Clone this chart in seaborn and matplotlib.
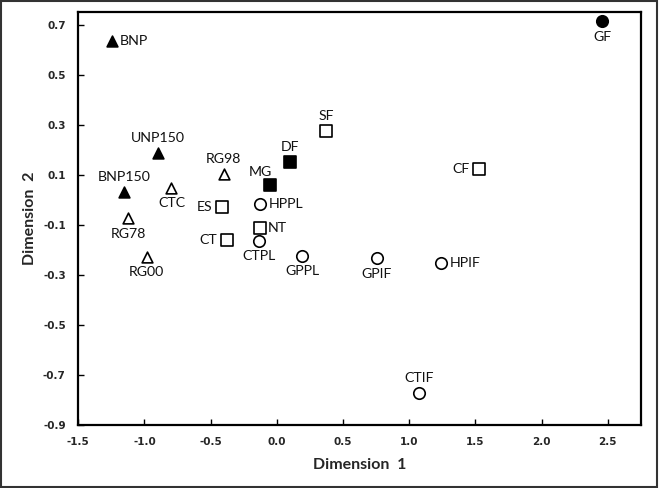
import matplotlib
matplotlib.use("Agg")
import matplotlib.pyplot as plt
import seaborn as sns
import pandas as pd
from matplotlib.patches import Rectangle

# point labels, coordinates and group (marker type)
labels = ["BNP", "UNP150", "BNP150",
          "CTC", "RG98", "RG78", "RG00",
          "MG", "DF",
          "SF", "ES", "NT", "CT", "CF",
          "GF",
          "HPPL", "CTPL", "GPPL", "GPIF", "HPIF", "CTIF"]
dim1 = [-1.246, -0.899, -1.155,
        -0.796, -0.401, -1.123, -0.984,
        -0.054, 0.102,
        0.373, -0.414, -0.130, -0.376, 1.527,
        2.459,
        -0.125, -0.132, 0.192, 0.753, 1.241, 1.077]
dim2 = [0.635, 0.185, 0.031,
        0.047, 0.101, -0.075, -0.229,
        0.057, 0.151,
        0.274, -0.029, -0.113, -0.162, 0.121,
        0.713,
        -0.018, -0.165, -0.226, -0.235, -0.255, -0.774]
groups = ["tri_f"] * 3 + ["tri_o"] * 4 + ["sq_f"] * 2 + ["sq_o"] * 5 + ["ci_f"] + ["ci_o"] * 6
placement = ["right", "above", "above",
             "below", "above", "below", "below",
             "upleft", "above",
             "above", "left", "right", "left", "left",
             "below",
             "right", "below", "below", "below", "right", "above"]

df = pd.DataFrame({"Dimension 1": dim1, "Dimension 2": dim2,
                   "label": labels, "group": groups, "place": placement})

styles = {
    "tri_f": dict(marker="^", facecolor="black", s=60),
    "tri_o": dict(marker="^", facecolor="white", s=60),
    "sq_f": dict(marker="s", facecolor="black", s=68),
    "sq_o": dict(marker="s", facecolor="white", s=68),
    "ci_f": dict(marker="o", facecolor="black", s=68),
    "ci_o": dict(marker="o", facecolor="white", s=68),
}

sns.set_theme(style="white")
plt.rcParams["font.family"] = ["Lato", "DejaVu Sans"]

fig = plt.figure(figsize=(6.6, 4.88), dpi=100)
ax = fig.add_axes([0.1186, 0.130, 0.8524, 0.845])

for g, st in styles.items():
    sub = df[df["group"] == g]
    sns.scatterplot(data=sub, x="Dimension 1", y="Dimension 2", ax=ax,
                    marker=st["marker"], s=st["s"], facecolor=st["facecolor"],
                    edgecolor="black", linewidth=1.2, zorder=3)

offsets = {
    "above": ((0, 11), "center", "center"),
    "below": ((0, -11), "center", "center"),
    "left": ((-7, 0), "right", "center"),
    "right": ((6, 0), "left", "center"),
    "upleft": ((-7, 10), "center", "center"),
}
for _, r in df.iterrows():
    off, ha, va = offsets[r["place"]]
    ax.annotate(r["label"], (r["Dimension 1"], r["Dimension 2"]),
                xytext=off, textcoords="offset points", ha=ha, va=va,
                fontsize=10.2, color="#111111")

ax.set_xlim(-1.5, 2.75)
ax.set_ylim(-0.9, 0.75)
ax.set_xticks([-1.5, -1.0, -0.5, 0.0, 0.5, 1.0, 1.5, 2.0, 2.5])
ax.set_yticks([-0.9, -0.7, -0.5, -0.3, -0.1, 0.1, 0.3, 0.5, 0.7])
ax.set_xticklabels([f"{v:.1f}" for v in ax.get_xticks()],
                   fontfamily="DejaVu Sans", fontweight="bold", fontsize=7.5)
ax.set_yticklabels([f"{v:.1f}" for v in ax.get_yticks()],
                   fontfamily="DejaVu Sans", fontweight="bold", fontsize=7.5)
ax.tick_params(axis="both", direction="in", length=4, width=1, color="black",
               pad=9, left=True, bottom=True)
for sp in ax.spines.values():
    sp.set_linewidth(1.6)
    sp.set_color("black")

ax.set_xlabel("Dimension  1", fontsize=11.5, fontweight="bold", labelpad=8)
ax.set_ylabel("Dimension  2", fontsize=11.5, fontweight="bold", labelpad=4)

# outer frame of the picture
fig.patches.append(Rectangle((0.002, 0.003), 0.993, 0.994, transform=fig.transFigure,
                             fill=False, edgecolor="#333333", linewidth=1.5))

fig.savefig("out.png", dpi=100)
